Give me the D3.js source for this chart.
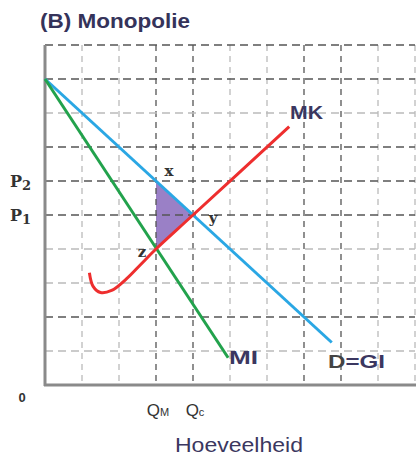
<!DOCTYPE html>
<html><head><meta charset="utf-8">
<script src="https://cdn.jsdelivr.net/npm/d3@7"></script>
<style>body{margin:0;background:#fff}svg{display:block}</style>
</head><body>
<svg id="c" width="416" height="459"></svg>
<script>
// Data (quantity, price) in grid units
const gridX = [1,2,3,4,5,6,7,8,9,10];
const gridY = [1,2,3,4,5,6,7,8,9,10];
const darkX = [3,4,7,8];
const darkY = [6,5,7,9,10,2];
const demand = [[0,9],[7.75,1.25]];           // D = GI
const mi = [[0,9],[4.95,0.8]];                 // MI
const mk = [[1.2,3.3],[1.3,2.9],[1.5,2.72],[1.8,2.78],[2.2,3.12],[2.6,3.56],[3,4],[4,5],[6.6,7.6]];
const dwl = [[3,6],[4,5],[3,4]];
const points = [{n:"x",q:3,p:6,dx:13,dy:-5},{n:"y",q:4,p:5,dx:20,dy:8},{n:"z",q:3,p:4,dx:-14,dy:8}];
const yTicks = [{t:"P",s:"2",p:6},{t:"P",s:"1",p:5}];
const xTicks = [{t:"Q",s:"M",q:3},{t:"Q",s:"c",q:4}];

const svg = d3.select("#c");
const x = d3.scaleLinear().domain([0,10]).range([45,415]);
const y = d3.scaleLinear().domain([0,10]).range([385,45]);
const line = d3.line().x(d=>x(d[0])).y(d=>y(d[1]));

// triangle (under grid so dashes show through)
svg.append("path").attr("d",line(dwl)+"Z").attr("fill","#9a80c6");

// grid
svg.append("g").selectAll("line").data(gridX).join("line")
  .attr("x1",d=>x(d)).attr("x2",d=>x(d)).attr("y1",y(10)).attr("y2",y(0))
  .attr("stroke",d=>darkX.includes(d)?"#555":"#bbb").attr("stroke-width",1.3)
  .attr("stroke-dasharray","6,5");
svg.append("g").selectAll("line").data(gridY).join("line")
  .attr("x1",x(0)).attr("x2",x(10)).attr("y1",d=>y(d)).attr("y2",d=>y(d))
  .attr("stroke",d=>darkY.includes(d)?"#555":"#bbb").attr("stroke-width",1.3)
  .attr("stroke-dasharray","8,5");

// axes
svg.append("line").attr("x1",x(0)).attr("x2",x(0)).attr("y1",y(10)).attr("y2",y(0)+1)
  .attr("stroke","#8a8a8a").attr("stroke-width",3);
svg.append("line").attr("x1",x(0)-1).attr("x2",416).attr("y1",y(0)).attr("y2",y(0))
  .attr("stroke","#8a8a8a").attr("stroke-width",3);

svg.append("path").attr("d",line(demand)).attr("stroke","#2aa7e4").attr("stroke-width",3).attr("fill","none");
svg.append("path").attr("d",line(mi)).attr("stroke","#22a24c").attr("stroke-width",3).attr("fill","none");
svg.append("path").attr("d",line.curve(d3.curveCatmullRom)(mk)).attr("stroke","#ee2e2e").attr("stroke-width",3).attr("fill","none");

const font = "'Liberation Sans', Arial, sans-serif";
// point labels
svg.append("g").selectAll("text").data(points).join("text")
  .attr("x",d=>x(d.q)+d.dx).attr("y",d=>y(d.p)+d.dy)
  .attr("text-anchor","middle").attr("font-family","'DejaVu Serif', serif").attr("font-size",15).attr("font-weight","bold")
  .attr("fill","#333").text(d=>d.n);

// curve labels
const lab = (t,xx,yy,w)=>svg.append("text").attr("x",xx).attr("y",yy).attr("font-family",font)
  .attr("font-size",19).attr("font-weight","bold").attr("fill","#3b3760")
  .attr("textLength",w).attr("lengthAdjust","spacingAndGlyphs").text(t);
lab("MK",290,119,33);
lab("MI",229,364,29);
const dgi = svg.append("text").attr("x",328).attr("y",368).attr("font-family",font).attr("font-size",19)
  .attr("font-weight","bold").attr("textLength",57).attr("lengthAdjust","spacingAndGlyphs");
dgi.append("tspan").attr("fill","#444").text("D");
dgi.append("tspan").attr("fill","#3b3760").text("=GI");

// y tick labels
svg.append("g").selectAll("text").data(yTicks).join("text")
  .attr("x",31).attr("y",d=>y(d.p)+6).attr("text-anchor","end")
  .attr("font-family","'DejaVu Serif', serif").attr("font-size",16).attr("font-weight","bold").attr("fill","#333")
  .each(function(d){const t=d3.select(this);t.append("tspan").text(d.t);t.append("tspan").attr("font-size",13).attr("dy",3).text(d.s);});

svg.append("text").attr("x",22).attr("y",402).attr("text-anchor","middle").attr("font-family",font)
  .attr("font-size",13).attr("font-weight","bold").attr("fill","#333").text("0");

// x tick labels
svg.append("g").selectAll("text").data(xTicks).join("text")
  .attr("x",d=>x(d.q)+2).attr("y",416).attr("text-anchor","middle")
  .attr("font-family",font).attr("font-size",17).attr("fill","#333")
  .each(function(d){const t=d3.select(this);t.append("tspan").text(d.t);t.append("tspan").attr("font-size",11).text(d.s);});

svg.append("text").attr("x",175).attr("y",452).attr("font-family",font)
  .attr("font-size",20).attr("fill","#3b3760").attr("textLength",128).attr("lengthAdjust","spacingAndGlyphs").text("Hoeveelheid");

svg.append("text").attr("x",40).attr("y",28).attr("font-family",font)
  .attr("font-size",20).attr("font-weight","bold").attr("fill","#35335a")
  .attr("textLength",150).attr("lengthAdjust","spacingAndGlyphs").text("(B) Monopolie");
</script>
</body></html>
